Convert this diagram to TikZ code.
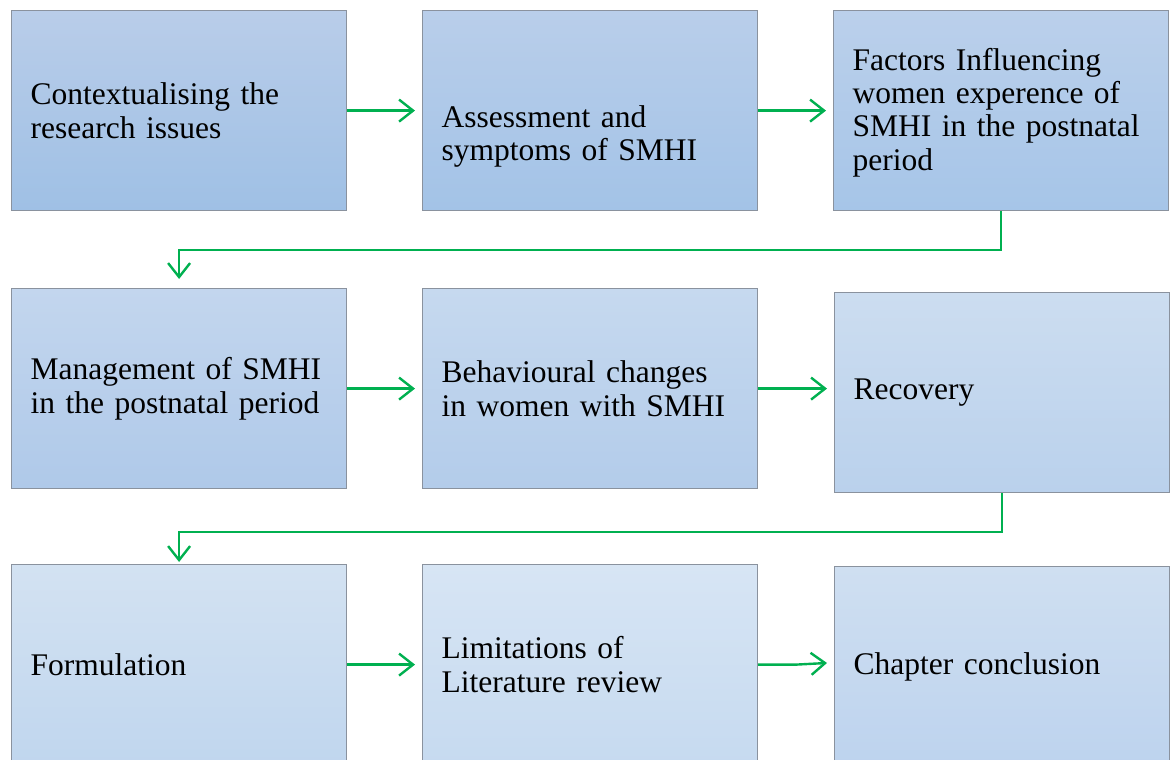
\documentclass[tikz,border=0pt]{standalone}
\usepackage{fontspec}
\setmainfont{Liberation Serif}
\usetikzlibrary{arrows.meta}
\definecolor{flowgreen}{HTML}{00B050}
\definecolor{boxedge}{HTML}{8A929E}
\tikzset{
  stage/.style={draw=boxedge, line width=1.2pt, anchor=north west,
    minimum height=200pt, text width=297pt, inner xsep=19pt, inner ysep=0pt,
    align=left, font=\fontsize{31.5pt}{33.4pt}\selectfont},
  flow/.style={draw=flowgreen, line width=2.4pt,
    -{Straight Barb[length=14pt,width=22pt,line width=2.4pt]}},
}
% invisible strut that lowers a text block inside its box
\newcommand{\lowerby}[1]{\rule{0pt}{\dimexpr 22pt+#1\relax}}
\begin{document}
\begin{tikzpicture}[x=1pt,y=-1pt]
\useasboundingbox (0,0) rectangle (1170,760);
\fill[white] (0,0) rectangle (1170,760);
\clip (0,0) rectangle (1170,760);

% row 1
\node[stage, top color={rgb,255:red,185;green,205;blue,233}, bottom color={rgb,255:red,159;green,192;blue,229}] (c1) at (11,10) {Contextualising the\\research issues};
\node[stage, top color={rgb,255:red,185;green,206;blue,234}, bottom color={rgb,255:red,163;green,195;blue,231}] (c2) at (422,10) {\lowerby{52pt}Assessment and\\symptoms of SMHI};
\node[stage, top color={rgb,255:red,187;green,208;blue,235}, bottom color={rgb,255:red,166;green,197;blue,232}] (c3) at (833,10) {\lowerby{4pt}Factors Influencing\\women experence of\\SMHI in the postnatal\\period};

% row 2
\node[stage, top color={rgb,255:red,195;green,214;blue,238}, bottom color={rgb,255:red,175;green,201;blue,233}] (c4) at (11,288) {Management of SMHI\\in the postnatal period};
\node[stage, top color={rgb,255:red,198;green,217;blue,239}, bottom color={rgb,255:red,179;green,204;blue,234}] (c5) at (422,288) {Behavioural changes\\in women with SMHI};
\node[stage, top color={rgb,255:red,204;green,221;blue,240}, bottom color={rgb,255:red,186;green,209;blue,236}] (c6) at (834,292) {Recovery};

% row 3
\node[stage, top color={rgb,255:red,211;green,226;blue,242}, bottom color={rgb,255:red,192;green,214;blue,238}] (c7) at (11,564) {Formulation};
\node[stage, top color={rgb,255:red,215;green,229;blue,244}, bottom color={rgb,255:red,198;green,218;blue,240}] (c8) at (422,564) {Limitations of\\Literature review};
\node[stage, top color={rgb,255:red,207;green,223;blue,241}, bottom color={rgb,255:red,189;green,211;blue,238}] (c9) at (834,566) {Chapter conclusion};

% horizontal links
\draw[flow, shorten >=7pt] (c1.east) -- (c2.west);
\draw[flow, shorten >=7pt] (c2.east) -- (c3.west);
\draw[flow, shorten >=7pt] (c4.east) -- (c5.west);
\draw[flow, shorten >=7pt] (c5.east) -- (c5.east -| c6.west);
\draw[flow, shorten >=7pt] (c7.east) -- (c8.west);
\draw[flow, shorten >=7pt] (c8.east) -- ++(38,0) -- ([yshift=2pt]c8.east -| c9.west);

% links between rows
\draw[flow, shorten >=9pt] (c3.south) -- ++(0,39) -| (c4.north);
\draw[flow, shorten >=2pt] (c6.south) -- ++(0,39) -| (c7.north);
\end{tikzpicture}
\end{document}
